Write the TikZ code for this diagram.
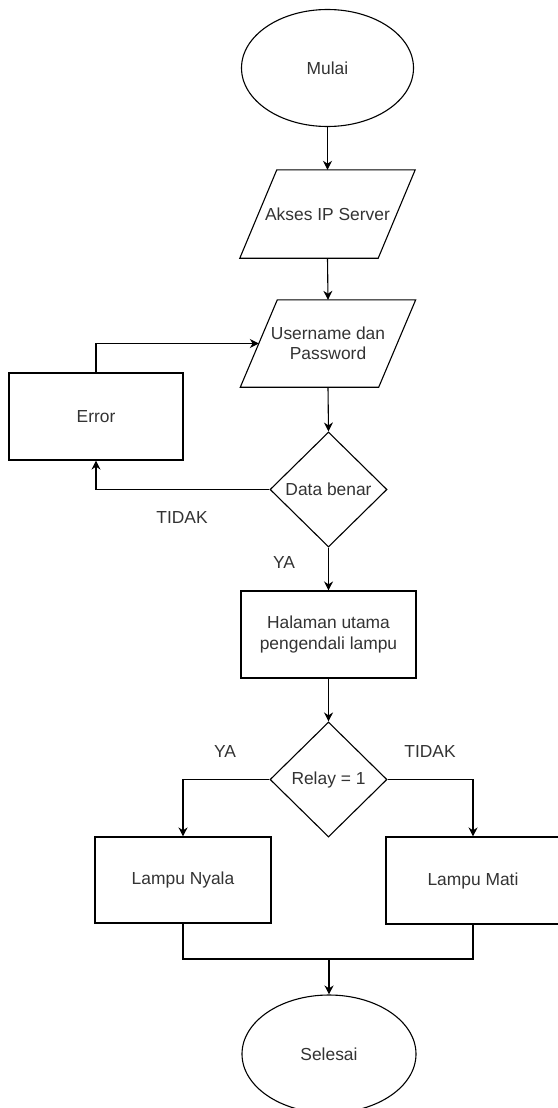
\documentclass[tikz,border=0pt]{standalone}
\usepackage{fontspec}
\setmainfont{Liberation Sans}
\usetikzlibrary{shapes.geometric,arrows.meta}
\begin{document}
\begin{tikzpicture}[x=1pt,y=-1pt,
  every node/.style={font=\fontsize{17.4}{20.5}\selectfont, text=black!80, inner sep=0pt, align=center},
  base/.style={draw=black, line width=1.1pt, fill=white},
  term/.style={base, ellipse, minimum width=172pt, minimum height=117pt},
  io/.style={rectangle, minimum width=138pt, minimum height=88pt},
  ioline/.style={draw=black, line width=1.1pt, line join=miter},
  proc/.style={base, rectangle, minimum width=175pt, minimum height=87pt},
  decision/.style={base, diamond, minimum width=117pt, minimum height=115pt},
  lbl/.style={font=\fontsize{17.4}{20.5}\selectfont},
  conn/.style={draw=black, line width=1.1pt, -{Stealth[length=9pt,width=9pt]}},
  line/.style={draw=black, line width=1.1pt}
]
\useasboundingbox (0,0) rectangle (557,1108);
\node[term] (mulai) at (327.5,68) {Mulai};
\node[io] (akses) at (327.5,214) {Akses IP Server};
\draw[ioline] ([xshift=-18.5pt]akses.south west) -- ([xshift=18.5pt]akses.north west) -- ([xshift=18.5pt]akses.north east) -- ([xshift=-18.5pt]akses.south east) -- cycle;
\node[io, minimum height=87pt] (user) at (328,343.5) {Username dan\\Password};
\draw[ioline] ([xshift=-18.5pt]user.south west) -- ([xshift=18.5pt]user.north west) -- ([xshift=18.5pt]user.north east) -- ([xshift=-18.5pt]user.south east) -- cycle;
\node[proc, minimum width=174pt] (err) at (96,416.5) {Error};
\node[decision] (data) at (328.5,489.5) {Data benar};
\node[proc] (hal) at (328.5,634.5) {Halaman utama\\pengendali lampu};
\node[decision] (relay) at (328.5,779.5) {Relay = 1};
\node[proc, minimum width=176pt, minimum height=86pt] (nyala) at (183,880) {Lampu Nyala};
\node[proc, minimum width=174pt] (mati) at (473,880.5) {Lampu Mati};
\node[term, minimum width=174pt, minimum height=118pt] (selesai) at (329,1054) {Selesai};

\node[lbl] (t1) at (182,518) {TIDAK};
\node[lbl] (y1) at (284,563) {YA};
\node[lbl] (y2) at (225,752) {YA};
\node[lbl] (t2) at (430,752) {TIDAK};

\coordinate (m) at (329,959);

\draw[conn] (mulai.south) -- (akses.north);
\draw[conn] (akses.south) -- (user.north);
\draw[conn] (user.south) -- (data.north);
\draw[conn] (data.west) -| (err.south);
\draw[conn] (err.north) |- (user.west);
\draw[conn] (data.south) -- (hal.north);
\draw[conn] (hal.south) -- (relay.north);
\draw[conn] (relay.west) -| (nyala.north);
\draw[conn] (relay.east) -| (mati.north);
\draw[line] (nyala.south) |- (m) -| (mati.south);
\draw[conn] (m) -- (selesai.north);
\end{tikzpicture}
\end{document}
